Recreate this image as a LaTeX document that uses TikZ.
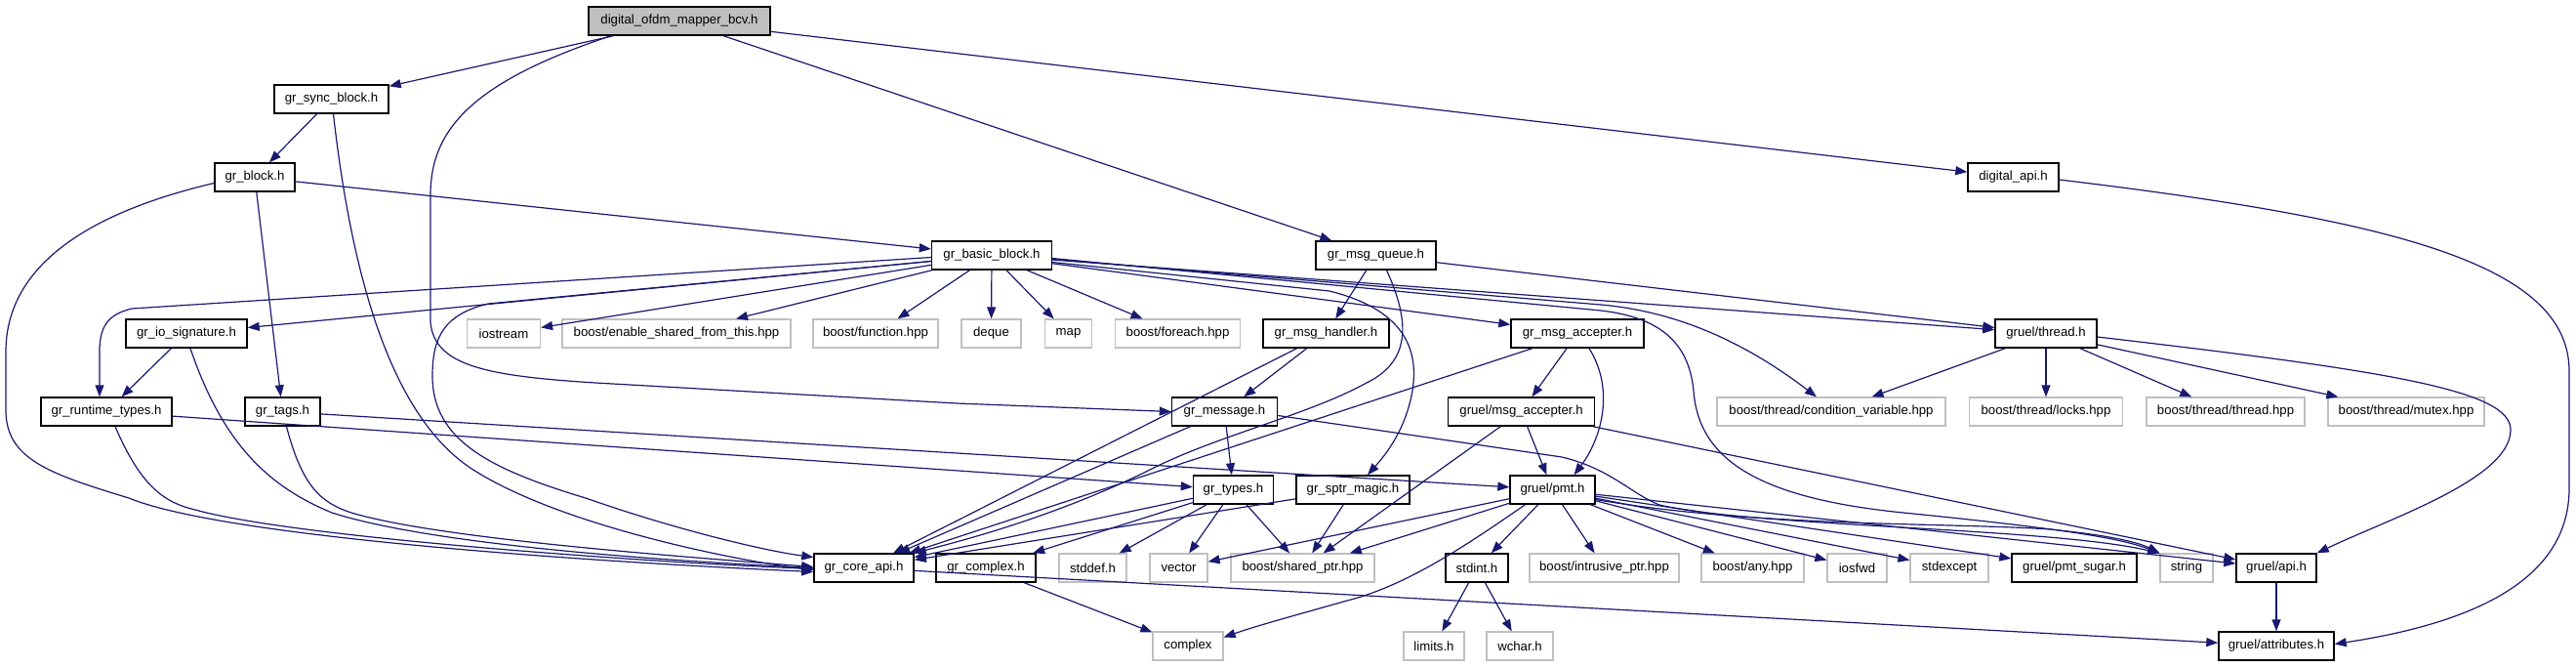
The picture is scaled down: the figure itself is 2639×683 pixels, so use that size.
\documentclass[tikz,border=0pt]{standalone}
\usepackage{fontspec}
\setmainfont{Liberation Sans}
\usetikzlibrary{arrows.meta}
\definecolor{edgec}{HTML}{191970}
\definecolor{rootfill}{HTML}{BFBFBF}
\definecolor{sysc}{HTML}{BFBFBF}
\tikzset{
  inc/.style={draw=black, line width=1.4pt, fill=white, minimum height=29pt, inner sep=0pt, font=\fontsize{13.2pt}{15pt}\selectfont},
  sys/.style={inc, draw=sysc, line width=1.2pt},
  rootnode/.style={inc, fill=rootfill},
  e/.style={draw=edgec, line width=1.2pt, -{Triangle[length=12pt,width=9pt]}}
}
\begin{document}
\begin{tikzpicture}[x=1pt,y=-1pt]
\useasboundingbox (0,0) rectangle (2639,683);
% row 1-3
\node[rootnode, minimum width=186pt] (root) at (696,21.5) {digital\_ofdm\_mapper\_bcv.h};
\node[inc, minimum width=117pt] (sync) at (339.5,101.5) {gr\_sync\_block.h};
\node[inc, minimum width=82pt] (block) at (261,181.5) {gr\_block.h};
\node[inc, minimum width=93pt] (dapi) at (2062.5,181.5) {digital\_api.h};
% row 4
\node[inc, minimum width=123pt] (basic) at (1016,261.5) {gr\_basic\_block.h};
\node[inc, minimum width=123pt] (queue) at (1409.5,261.5) {gr\_msg\_queue.h};
% row 5
\node[inc, minimum width=124pt] (iosig) at (191,341.5) {gr\_io\_signature.h};
\node[sys, minimum width=75pt] (iostream) at (516,341.5) {iostream};
\node[sys, minimum width=234pt] (esft) at (693,341.5) {boost/enable\_shared\_from\_this.hpp};
\node[sys, minimum width=128pt] (function) at (897,341.5) {boost/function.hpp};
\node[sys, minimum width=61pt] (deque) at (1015.5,341.5) {deque};
\node[sys, minimum width=48pt] (map) at (1094.5,341.5) {map};
\node[sys, minimum width=128pt] (foreach) at (1206.5,341.5) {boost/foreach.hpp};
\node[inc, minimum width=129pt] (handler) at (1358.5,341.5) {gr\_msg\_handler.h};
\node[inc, minimum width=136pt] (accepter) at (1616,341.5) {gr\_msg\_accepter.h};
\node[inc, minimum width=104pt] (thread) at (2096,341.5) {gruel/thread.h};
% row 6
\node[inc, minimum width=134pt] (runtime) at (109,421.5) {gr\_runtime\_types.h};
\node[inc, minimum width=77pt] (tags) at (289.5,421.5) {gr\_tags.h};
\node[inc, minimum width=108pt] (message) at (1254.5,421.5) {gr\_message.h};
\node[inc, minimum width=150pt] (gmsgacc) at (1558.5,421.5) {gruel/msg\_accepter.h};
\node[sys, minimum width=234pt] (condvar) at (1876,421.5) {boost/thread/condition\_variable.hpp};
\node[sys, minimum width=157pt] (locks) at (2096,421.5) {boost/thread/locks.hpp};
\node[sys, minimum width=162pt] (bthread) at (2280,421.5) {boost/thread/thread.hpp};
\node[sys, minimum width=160pt] (mutex) at (2465,421.5) {boost/thread/mutex.hpp};
% row 7
\node[inc, minimum width=82pt] (types) at (1263.5,501.5) {gr\_types.h};
\node[inc, minimum width=116pt] (sptr) at (1386,501.5) {gr\_sptr\_magic.h};
\node[inc, minimum width=87pt] (pmt) at (1590.5,501.5) {gruel/pmt.h};
% row 8
\node[inc, minimum width=102pt] (coreapi) at (885,581.5) {gr\_core\_api.h};
\node[inc, minimum width=102pt] (grcomplex) at (1010,581.5) {gr\_complex.h};
\node[sys, minimum width=69pt] (stddef) at (1119.5,581.5) {stddef.h};
\node[sys, minimum width=59pt] (vector) at (1207.5,581.5) {vector};
\node[sys, minimum width=147pt] (shared) at (1334.5,581.5) {boost/shared\_ptr.hpp};
\node[inc, minimum width=64pt] (stdint) at (1513,581.5) {stdint.h};
\node[sys, minimum width=153pt] (intrusive) at (1643.5,581.5) {boost/intrusive\_ptr.hpp};
\node[sys, minimum width=105pt] (any) at (1795.5,581.5) {boost/any.hpp};
\node[sys, minimum width=61pt] (iosfwd) at (1902.5,581.5) {iosfwd};
\node[sys, minimum width=80pt] (stdexcept) at (1997,581.5) {stdexcept};
\node[inc, minimum width=128pt] (sugar) at (2125,581.5) {gruel/pmt\_sugar.h};
\node[sys, minimum width=54pt] (string) at (2240,581.5) {string};
\node[inc, minimum width=82pt] (gapi) at (2332,581.5) {gruel/api.h};
% row 9
\node[sys, minimum width=72pt] (complex) at (1217,661.5) {complex};
\node[sys, minimum width=62pt] (limits) at (1469,661.5) {limits.h};
\node[sys, minimum width=68pt] (wchar) at (1557,661.5) {wchar.h};
\node[inc, minimum width=118pt] (attrib) at (2332,661.5) {gruel/attributes.h};

% ---- straight edges
\draw[e] (root) -- (sync);
\draw[e] (root) -- (queue);
\draw[e] (root) -- (dapi);
\draw[e] (sync) -- (block);
\draw[e] (block) -- (basic);
\draw[e] (block) -- (tags);
\draw[e] (basic) -- (iosig);
\draw[e] (basic) -- (iostream);
\draw[e] (basic) -- (esft);
\draw[e] (basic) -- (function);
\draw[e] (basic) -- (deque);
\draw[e] (basic) -- (map);
\draw[e] (basic) -- (foreach);
\draw[e] (basic) -- (accepter);
\draw[e] (basic) -- (thread);
\draw[e] (queue) -- (thread);
\draw[e] (queue) -- (handler);
\draw[e] (handler) -- (message);
\draw[e] (handler) -- (coreapi);
\draw[e] (accepter) -- (gmsgacc);
\draw[e] (accepter) -- (coreapi);
\draw[e] (gmsgacc) -- (pmt);
\draw[e] (gmsgacc) -- (shared);
\draw[e] (gmsgacc) -- (gapi);
\draw[e] (message) -- (types);
\draw[e] (message) -- (coreapi);
\draw[e] (types) -- (coreapi);
\draw[e] (types) -- (grcomplex);
\draw[e] (types) -- (stddef);
\draw[e] (types) -- (vector);
\draw[e] (types) -- (shared);
\draw[e] (sptr) -- (shared);
\draw[e] (sptr) -- (coreapi);
\draw[e] (pmt) -- (vector);
\draw[e] (pmt) -- (shared);
\draw[e] (pmt) -- (stdint);
\draw[e] (pmt) -- (intrusive);
\draw[e] (pmt) -- (any);
\draw[e] (pmt) -- (iosfwd);
\draw[e] (pmt) -- (stdexcept);
\draw[e] (pmt) -- (sugar);
\draw[e] (pmt) -- (gapi);
\draw[e] (coreapi) -- (attrib);
\draw[e] (grcomplex) -- (complex);
\draw[e] (stdint) -- (limits);
\draw[e] (stdint) -- (wchar);
\draw[e] (thread) -- (condvar);
\draw[e] (thread) -- (locks);
\draw[e] (thread) -- (bthread);
\draw[e] (thread) -- (mutex);
\draw[e] (gapi) -- (attrib);
\draw[e] (iosig) -- (runtime);
\draw[e] (runtime) -- (types);
\draw[e] (tags) -- (pmt);

% ---- curved edges
\draw[e] ([xshift=-70pt]root.south) .. controls (480,85) and (441,135) .. (441,200)
  -- (441,330) .. controls (445,375) and (500,385) .. (610,392) -- (980,413) -- (message.west);
\draw[e] ([xshift=2pt]sync.south) .. controls (360,280) and (400,430) .. (488,483)
  .. controls (580,540) and (760,575) .. ([yshift=-2pt]coreapi.west);
\draw[e] ([yshift=-6pt]block.west) .. controls (60,225) and (6,290) .. (6,360) -- (6,420)
  .. controls (6,470) and (50,485) .. (132,510) .. controls (230,550) and (600,575) .. ([yshift=-4pt]coreapi.west);
\draw[e] ([yshift=-2pt]basic.west) -- (135,316) .. controls (110,322) and (102,335) .. (102,360) -- ([xshift=-7pt]runtime.north);
\draw[e] ([yshift=-6pt]basic.west) -- (500,311) .. controls (455,322) and (443,345) .. (443,385)
  .. controls (443,450) and (500,480) .. (600,510) .. controls (700,545) and (790,565) .. ([yshift=11pt]coreapi.west);
\draw[e] ([yshift=-4pt]basic.east) -- (1640,312) .. controls (1730,320) and (1800,360) .. ([xshift=-15pt]condvar.north);
\draw[e] ([yshift=-3pt]basic.east) -- (1640,318) .. controls (1700,325) and (1730,350) .. (1735,400)
  .. controls (1740,470) and (1800,510) .. (1950,525) .. controls (2100,540) and (2170,550) .. (string.north west);
\draw[e] ([yshift=-7pt]basic.east) -- (1362,298) .. controls (1430,315) and (1455,350) .. (1447,400)
  .. controls (1440,440) and (1420,465) .. ([xshift=15pt]sptr.north);
\draw[e] ([xshift=11pt]queue.south) .. controls (1445,330) and (1445,370) .. (1400,392)
  .. controls (1340,425) and (1250,445) .. (1180,480) .. controls (1080,530) and (980,555) .. (coreapi.north east);
\draw[e] ([xshift=12pt]accepter.south) .. controls (1655,400) and (1640,450) .. ([xshift=22pt]pmt.north);
\draw[e] ([yshift=-4pt]message.east) -- (1600,468) .. controls (1650,480) and (1670,505) .. (1700,517)
  .. controls (1800,540) and (2100,540) .. (string.north west);
\draw[e] ([xshift=-28pt]pmt.south) .. controls (1500,560) and (1440,600) .. (1380,615)
  .. controls (1320,632) and (1290,640) .. ([yshift=9pt]complex.east);
\draw[e] ([yshift=-10pt]pmt.east) .. controls (1800,540) and (2000,535) .. (2100,542)
  .. controls (2160,548) and (2190,555) .. (string.north west);
\draw[e] ([yshift=-3.5pt]thread.east) .. controls (2450,380) and (2572,400) .. (2572,440)
  .. controls (2572,490) and (2450,530) .. (gapi.north east);
\draw[e] ([yshift=-2.5pt]dapi.east) .. controls (2450,225) and (2632,270) .. (2632,380) -- (2632,500)
  .. controls (2632,600) and (2520,640) .. ([yshift=2pt]attrib.east);
\draw[e] ([xshift=4pt]tags.south) .. controls (310,500) and (330,515) .. (360,525)
  .. controls (450,552) and (700,570) .. ([yshift=1pt]coreapi.west);
\draw[e] ([xshift=9pt]runtime.south) .. controls (145,500) and (170,515) .. (200,522)
  .. controls (300,550) and (650,575) .. ([yshift=-1pt]coreapi.west);
\draw[e] ([xshift=4pt]iosig.south) .. controls (230,460) and (280,500) .. (340,525)
  .. controls (450,560) and (700,575) .. (coreapi.west);
\end{tikzpicture}
\end{document}
